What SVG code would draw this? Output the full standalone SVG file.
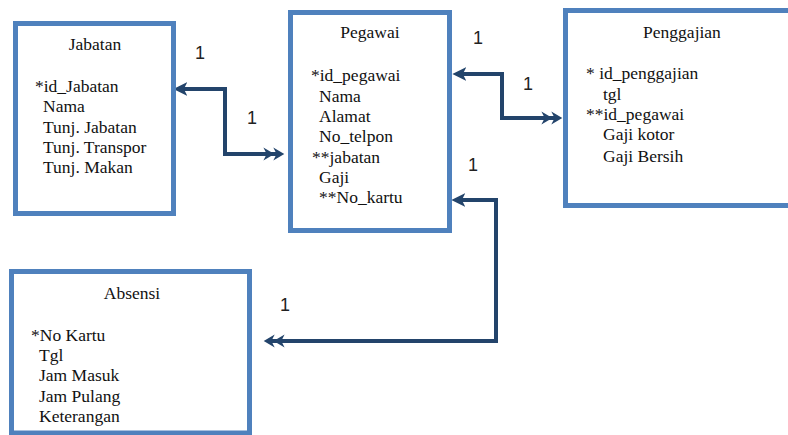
<svg xmlns="http://www.w3.org/2000/svg" width="788" height="435" viewBox="0 0 788 435">
<style>
.box{fill:#fff;stroke:#4F81BD;stroke-width:5}
.t{font-family:'Liberation Serif','Times New Roman','DejaVu Serif',serif;font-size:17.5px;fill:#111}
.c{text-anchor:middle}
.conn{fill:none;stroke:#23446B;stroke-width:4;stroke-linejoin:miter}
.lbl{font-family:'Liberation Sans',Arial,sans-serif;font-size:18px;fill:#222;text-anchor:middle}
</style>
<defs>
<marker id="one" markerUnits="userSpaceOnUse" markerWidth="14" markerHeight="14" viewBox="0 0 12 12" refX="8" refY="6" orient="auto-start-reverse">
<path d="M0,0 L12,6 L0,12 L3,6 Z" fill="#23446B"/>
</marker>
<marker id="two" markerUnits="userSpaceOnUse" markerWidth="22" markerHeight="14" viewBox="0 0 20 12" refX="16" refY="6" orient="auto-start-reverse">
<path d="M0,0 L10,6 L0,12 L3,6 Z M9,0 L19,6 L9,12 L12,6 Z" fill="#23446B"/>
</marker>
</defs>
<rect width="788" height="435" fill="#fff"/>

<g id="connectors">
<path class="conn" d="M178,89 H225 V154 H281" marker-start="url(#one)" marker-end="url(#two)"/>
<path class="conn" d="M457,74 H502 V118 H559" marker-start="url(#one)" marker-end="url(#two)"/>
<path class="conn" d="M456,200 H496 V341 H267" marker-start="url(#one)" marker-end="url(#two)"/>
<text class="lbl" x="200" y="59">1</text>
<text class="lbl" x="252" y="124">1</text>
<text class="lbl" x="478" y="44">1</text>
<text class="lbl" x="528" y="90">1</text>
<text class="lbl" x="473" y="171">1</text>
<text class="lbl" x="285" y="311">1</text>
</g>

<g id="jabatan">
<rect class="box" x="15.5" y="23.5" width="158" height="190"/>
<text class="t c" x="95" y="50">Jabatan</text>
<text class="t" x="35" y="92">*id_Jabatan</text>
<text class="t" x="43" y="112">Nama</text>
<text class="t" x="43" y="133">Tunj. Jabatan</text>
<text class="t" x="43" y="153">Tunj. Transpor</text>
<text class="t" x="43" y="173">Tunj. Makan</text>
</g>

<g id="pegawai">
<rect class="box" x="290.5" y="12.5" width="159" height="218"/>
<text class="t c" x="370" y="38">Pegawai</text>
<text class="t" x="311" y="81">*id_pegawai</text>
<text class="t" x="319" y="101.5">Nama</text>
<text class="t" x="319" y="122">Alamat</text>
<text class="t" x="319" y="142">No_telpon</text>
<text class="t" x="312" y="162.5">**jabatan</text>
<text class="t" x="319" y="183">Gaji</text>
<text class="t" x="319" y="203">**No_kartu</text>
</g>

<g id="penggajian">
<rect class="box" x="565.5" y="10.5" width="230" height="195"/>
<text class="t c" x="682" y="38">Penggajian</text>
<text class="t" x="586" y="79">* id_penggajian</text>
<text class="t" x="603" y="100">tgl</text>
<text class="t" x="586" y="120">**id_pegawai</text>
<text class="t" x="603" y="140">Gaji kotor</text>
<text class="t" x="603" y="162">Gaji Bersih</text>
</g>

<g id="absensi">
<rect class="box" x="11.5" y="271.5" width="238" height="161.5"/>
<text class="t c" x="132" y="299">Absensi</text>
<text class="t" x="31" y="341">*No Kartu</text>
<text class="t" x="39" y="361">Tgl</text>
<text class="t" x="39" y="381">Jam Masuk</text>
<text class="t" x="39" y="402">Jam Pulang</text>
<text class="t" x="39" y="422">Keterangan</text>
</g>
</svg>
